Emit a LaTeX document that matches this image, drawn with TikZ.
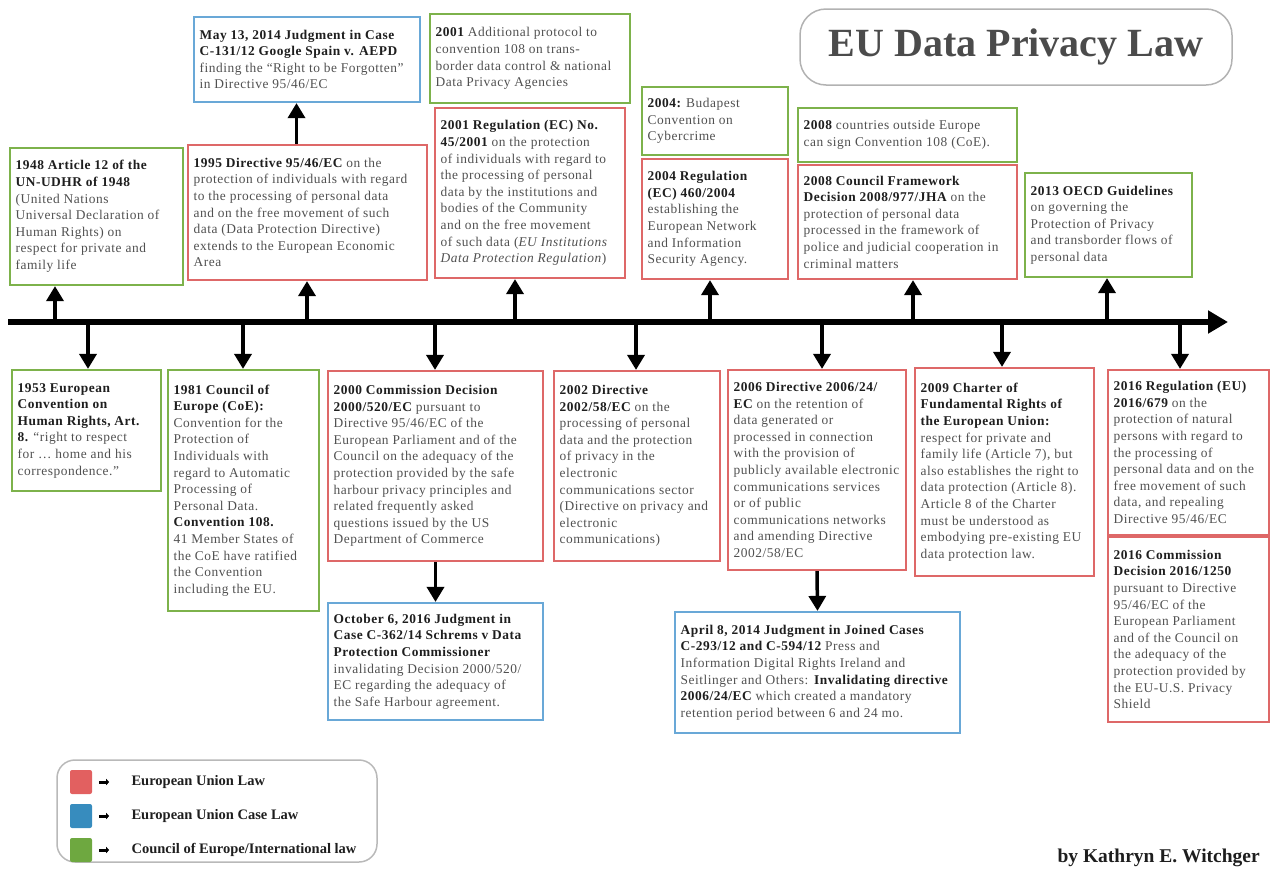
\documentclass[tikz,border=0pt]{standalone}
\usepackage{fontspec}
\setmainfont{Liberation Serif}
\newfontfamily\bodyfont{Liberation Serif}[LetterSpace=4]
\usetikzlibrary{arrows.meta}
\definecolor{eured}{RGB}{222,104,104}
\definecolor{eublue}{RGB}{105,168,215}
\definecolor{coegreen}{RGB}{125,178,75}
\definecolor{legred}{RGB}{226,96,96}
\definecolor{legblue}{RGB}{55,140,190}
\definecolor{leggreen}{RGB}{110,168,64}
\definecolor{txtgray}{RGB}{80,80,80}
\definecolor{hdc}{RGB}{30,30,30}
\definecolor{titlegray}{RGB}{75,75,75}
\newcommand\hd[1]{\textbf{\color{hdc}#1}}
\newcommand\tlbox[7]{%
  \node[#1, minimum width={#5-#3}, minimum height={#6-#4}]
        (#2) at ({(#3+#5)/2},{(#4+#6)/2}) {};
  \node[boxtext, anchor=west] (#2-t) at ([xshift=6.5pt]#2.west) {#7};}
\tikzset{
  box/.style={draw, line width=2.2pt, inner sep=0pt},
  boxtext/.style={align=left, inner sep=0pt, text=txtgray,
              font=\bodyfont\fontsize{13.4}{16.6}\selectfont},
  eubox/.style={box, draw=eured},
  casebox/.style={box, draw=eublue},
  coebox/.style={box, draw=coegreen},
  arr/.style={line width=3.5pt, -{Triangle[width=17pt,length=15pt]}},
}
\begin{document}
\begin{tikzpicture}[x=1pt,y=-1pt]
\useasboundingbox (0,0) rectangle (1271,868);
% title
\node[draw=gray!60, line width=1.5pt, rounded corners=26pt, minimum width=432, minimum height=76,
      text=titlegray, font=\fontsize{40}{44}\selectfont\bfseries] (title) at (1016,47) {EU Data Privacy Law};
% timeline
\coordinate (tl0) at (8,322);
\coordinate (tl1) at (1228,322);
\draw[line width=5.5pt, -{Triangle[width=22pt,length=20pt]}] (tl0) -- (tl1);
% top boxes
\tlbox{coebox}{n1948}{10}{148}{183}{285}{\hd{1948 Article 12 of the}\\ \hd{UN-UDHR of 1948}\\ (United Nations\\ Universal Declaration of\\ Human Rights) on\\ respect for private and\\ family life}
\tlbox{eubox}{n1995}{188}{145}{427}{280}{\hd{1995 Directive 95/46/EC} on the\\ protection of individuals with regard\\ to the processing of personal data\\ and on the free movement of such\\ data (Data Protection Directive)\\ extends to the European Economic\\ Area}
\tlbox{casebox}{nmay}{194}{17}{420}{102}{\hd{May 13, 2014 Judgment in Case}\\ \hd{C-131/12 Google Spain v. AEPD}\\ finding the “Right to be Forgotten”\\ in Directive 95/46/EC}
\tlbox{coebox}{n2001p}{430}{14}{630}{103}{\hd{2001} Additional protocol to\\ convention 108 on trans-\\ border data control \& national\\ Data Privacy Agencies}
\tlbox{eubox}{n2001}{435}{108}{625}{278}{\hd{2001 Regulation (EC) No.}\\ \hd{45/2001} on the protection\\ of individuals with regard to\\ the processing of personal\\ data by the institutions and\\ bodies of the Community\\ and on the free movement\\ of such data (\textit{EU Institutions}\\ \textit{Data Protection Regulation})}
\tlbox{coebox}{n2004b}{642}{87}{788}{155}{\hd{2004:} Budapest\\ Convention on\\ Cybercrime}
\tlbox{eubox}{n2004}{642}{159}{788}{279}{\hd{2004 Regulation}\\ \hd{(EC) 460/2004}\\ establishing the\\ European Network\\ and Information\\ Security Agency.}
\tlbox{coebox}{n2008c}{798}{108}{1017}{162}{\hd{2008} countries outside Europe\\ can sign Convention 108 (CoE).}
\tlbox{eubox}{n2008}{798}{165}{1017}{279}{\hd{2008 Council Framework}\\ \hd{Decision 2008/977/JHA} on the\\ protection of personal data\\ processed in the framework of\\ police and judicial cooperation in\\ criminal matters}
\tlbox{coebox}{n2013}{1025}{173}{1192}{277}{\hd{2013 OECD Guidelines}\\ on governing the\\ Protection of Privacy\\ and transborder flows of\\ personal data}
% bottom boxes
\tlbox{coebox}{n1953}{12}{370}{161}{491}{\hd{1953 European}\\ \hd{Convention on}\\ \hd{Human Rights, Art.}\\ \hd{8.} “right to respect\\ for … home and his\\ correspondence.”}
\tlbox{coebox}{n1981}{168}{370}{319}{611}{\hd{1981 Council of}\\ \hd{Europe (CoE):}\\ Convention for the\\ Protection of\\ Individuals with\\ regard to Automatic\\ Processing of\\ Personal Data.\\ \hd{Convention 108.}\\ 41 Member States of\\ the CoE have ratified\\ the Convention\\ including the EU.}
\tlbox{eubox}{n2000}{328}{371}{543}{561}{\hd{2000 Commission Decision}\\ \hd{2000/520/EC} pursuant to\\ Directive 95/46/EC of the\\ European Parliament and of the\\ Council on the adequacy of the\\ protection provided by the safe\\ harbour privacy principles and\\ related frequently asked\\ questions issued by the US\\ Department of Commerce}
\tlbox{casebox}{noct}{328}{603}{543}{720}{\hd{October 6, 2016 Judgment in}\\ \hd{Case C-362/14 Schrems v Data}\\ \hd{Protection Commissioner}\\ invalidating Decision 2000/520/\\ EC regarding the adequacy of\\ the Safe Harbour agreement.}
\tlbox{eubox}{n2002}{554}{371}{720}{561}{\hd{2002 Directive}\\ \hd{2002/58/EC} on the\\ processing of personal\\ data and the protection\\ of privacy in the\\ electronic\\ communications sector\\ (Directive on privacy and\\ electronic\\ communications)}
\tlbox{eubox}{n2006}{728}{370}{906}{570}{\hd{2006 Directive 2006/24/}\\ \hd{EC} on the retention of\\ data generated or\\ processed in connection\\ with the provision of\\ publicly available electronic\\ communications services\\ or of public\\ communications networks\\ and amending Directive\\ 2002/58/EC}
\tlbox{casebox}{napr}{675}{612}{960}{733}{\hd{April 8, 2014 Judgment in Joined Cases}\\ \hd{C-293/12 and C-594/12} Press and\\ Information Digital Rights Ireland and\\ Seitlinger and Others: \hd{Invalidating directive}\\ \hd{2006/24/EC} which created a mandatory\\ retention period between 6 and 24 mo.}
\tlbox{eubox}{n2009}{915}{368}{1094}{576}{\hd{2009 Charter of}\\ \hd{Fundamental Rights of}\\ \hd{the European Union:}\\ respect for private and\\ family life (Article 7), but\\ also establishes the right to\\ data protection (Article 8).\\ Article 8 of the Charter\\ must be understood as\\ embodying pre-existing EU\\ data protection law.}
\tlbox{eubox}{n2016r}{1108}{370}{1269}{535}{\hd{2016 Regulation (EU)}\\ \hd{2016/679} on the\\ protection of natural\\ persons with regard to\\ the processing of\\ personal data and on the\\ free movement of such\\ data, and repealing\\ Directive 95/46/EC}
\tlbox{eubox}{n2016c}{1108}{537}{1269}{722}{\hd{2016 Commission}\\ \hd{Decision 2016/1250}\\ pursuant to Directive\\ 95/46/EC of the\\ European Parliament\\ and of the Council on\\ the adequacy of the\\ protection provided by\\ the EU-U.S. Privacy\\ Shield}
% timeline tick coordinates
\coordinate (u1) at (55,322);
\coordinate (u2) at (307,322);
\coordinate (u3) at (515,322);
\coordinate (u4) at (710,322);
\coordinate (u5) at (913,322);
\coordinate (u6) at (1107,322);
\coordinate (d1) at (88,322);
\coordinate (d2) at (243,322);
\coordinate (d3) at (435,322);
\coordinate (d4) at (636,322);
\coordinate (d5) at (822,322);
\coordinate (d6) at (1002,322);
\coordinate (d7) at (1180,322);
% up arrows
\draw[arr] (u1) -- (u1 |- n1948.south);
\draw[arr] (u2) -- (u2 |- n1995.south);
\draw[arr] (u3) -- (u3 |- n2001.south);
\draw[arr] (u4) -- (u4 |- n2004.south);
\draw[arr] (u5) -- (u5 |- n2008.south);
\draw[arr] (u6) -- (u6 |- n2013.south);
% down arrows
\draw[arr] (d1) -- (d1 |- n1953.north);
\draw[arr] (d2) -- (d2 |- n1981.north);
\draw[arr] (d3) -- (d3 |- n2000.north);
\draw[arr] (d4) -- (d4 |- n2002.north);
\draw[arr] (d5) -- (d5 |- n2006.north);
\draw[arr] (d6) -- (d6 |- n2009.north);
\draw[arr] (d7) -- (d7 |- n2016r.north);
% box-to-box arrows
\draw[arr] ([xshift=-11pt]n1995.north) -- ([xshift=-11pt]n1995.north |- nmay.south);
\draw[arr] (n2000.south) -- (noct.north);
\draw[arr] (n2006.south) -- (napr.north);
% legend
\node[draw=gray!55, line width=1.5pt, rounded corners=18pt, minimum width=320, minimum height=102] (legend) at (217,811) {};
\tikzset{legsq/.style={minimum width=22, minimum height=24, inner sep=0pt, rounded corners=2pt},
         legtxt/.style={anchor=west, font=\fontsize{14.5}{16}\selectfont\bfseries, text=hdc},
         legarr/.style={line width=3pt, -{Triangle[width=6pt,length=3pt]}}}
\node[legsq, fill=legred] (sqr) at (81,782) {};
\node[legsq, fill=legblue] (sqb) at (81,816) {};
\node[legsq, fill=leggreen] (sqg) at (81,850) {};
\node[legtxt] (lr) at (128,782) {European Union Law};
\node[legtxt] (lb) at (128,816) {European Union Case Law};
\node[legtxt] (lg) at (128,850) {Council of Europe/International law};
\draw[legarr] ([xshift=7pt]sqr.east) -- ++(10,0);
\draw[legarr] ([xshift=7pt]sqb.east) -- ++(10,0);
\draw[legarr] ([xshift=7pt]sqg.east) -- ++(10,0);
% author
\node[anchor=base west, font=\fontsize{19.5}{21}\selectfont\bfseries, text=hdc] (author) at (1054,862) {by Kathryn E. Witchger};
\end{tikzpicture}
\end{document}
